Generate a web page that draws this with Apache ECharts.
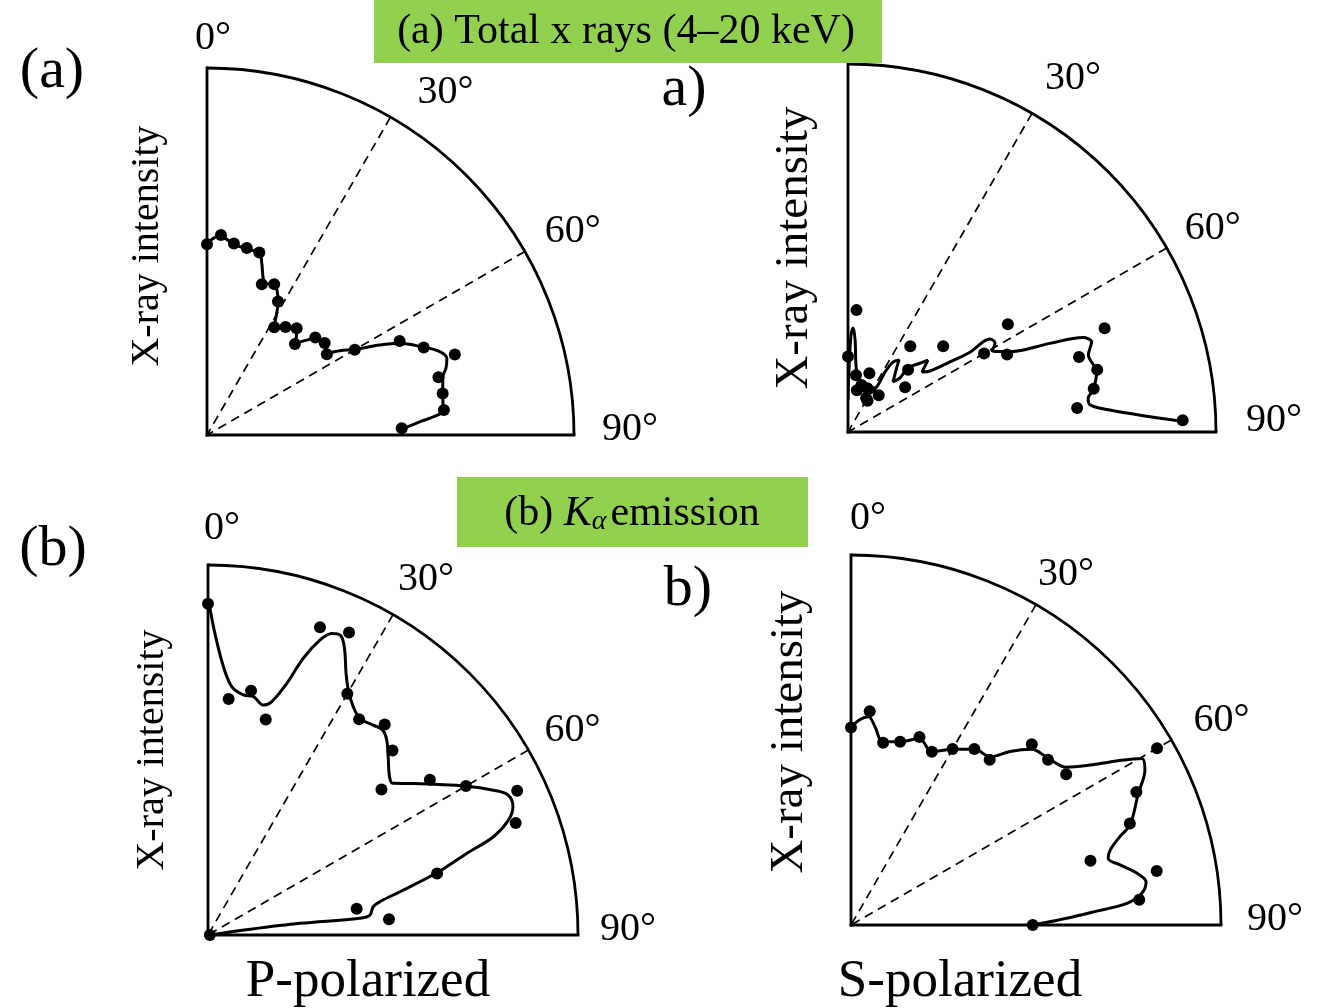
<!DOCTYPE html>
<html>
<head>
<meta charset="utf-8">
<script src="https://cdn.jsdelivr.net/npm/echarts@6/dist/echarts.min.js"></script>
<style>
html,body{margin:0;padding:0;background:#fff;}
#chart{width:1321px;height:1008px;}
</style>
</head>
<body>
<div id="chart"></div>
<script>
// ---- Data (angle in degrees from the surface normal, intensity normalised to the outer arc) ----
const angleTicks = [0, 30, 60, 90];
const frameRadius = [0, 1];

// (a) Total x rays, P-polarized
const pTotalAngles = [0,4,8,12,16,20,24,28,32,36,40,44,48,52,56,60,64,68,72,76,80,84,88];
const pTotalValues = [0.520,0.546,0.527,0.521,0.517,0.437,0.450,0.412,0.346,0.364,0.380,0.345,0.397,0.407,0.394,0.465,0.584,0.637,0.710,0.650,0.652,0.649,0.531];
const pTotalCurveAngles = [0,1.8,3.9,6.3,7.8,12.4,16.3,17.7,20.9,24.4,26.1,28.1,29.8,31.9,36.5,40.3,44.1,46.4,48.2,52.4,55.8,57.6,59.9,62.5,64.5,68.0,70.3,72.3,74.4,76.1,80.1,84.0,85.4,86.4,88.3];
const pTotalCurveValues = [0.520,0.536,0.544,0.533,0.525,0.518,0.516,0.491,0.443,0.449,0.435,0.412,0.382,0.346,0.362,0.378,0.348,0.375,0.395,0.406,0.399,0.429,0.466,0.531,0.580,0.638,0.674,0.686,0.676,0.662,0.652,0.647,0.619,0.582,0.531];

// (a) Total x rays, S-polarized
const sTotalAngles = [0,4,8,12,16,20,24,28,32,36,40,44,48,52,56,60,64,68,72,76,80,84,88];
const sTotalValues = [0.205,0.332,0.156,0.116,0.133,0.170,0.130,0.105,0.100,0.288,0.130,0.235,0.348,0.197,0.524,0.427,0.481,0.752,0.660,0.698,0.678,0.626,0.910];
const sTotalCurveAngles = [0,0.9,1.8,2.8,4.4,6.8,10.9,17.7,29.4,32.5,31.7,32.7,35.3,37.8,42.0,43.9,43.1,44.1,45.8,48.0,49.9,51.0,53.4,55.5,56.8,56.8,58.8,60.6,63.6,66.3,68.1,69.7,72.2,76.4,80.3,82.0,83.6,85.2,87.1,88.2];
const sTotalCurveValues = [0.087,0.168,0.264,0.283,0.251,0.183,0.144,0.125,0.122,0.152,0.192,0.226,0.240,0.213,0.183,0.204,0.231,0.250,0.265,0.292,0.270,0.259,0.278,0.336,0.396,0.461,0.467,0.449,0.491,0.599,0.688,0.706,0.686,0.695,0.676,0.659,0.662,0.714,0.822,0.911];

// (b) K-alpha emission, P-polarized
const pKaAngles = [0,5,10,15,20,25,30,35,40,45,50,55,60,65,70,75,80,85,90];
const pKaValues = [0.895,0.640,0.670,0.603,0.885,0.902,0.753,0.712,0.743,0.705,0.612,0.732,0.805,0.922,0.885,0.641,0.408,0.491,0.005];
const pKaCurveAngles = [0.2,1.3,3.3,5.5,8.4,10.8,13.5,15.3,17.4,19.0,20.8,22.3,23.8,25.3,27.8,29.8,32.5,35.1,38.2,40.4,42.5,45.3,48.9,50.6,53.6,60.1,63.1,65.0,67.2,69.1,71.0,72.5,74.8,77.3,79.0,80.3,83.0,83.7,82.8,82.3,90];
const pKaCurveValues = [0.895,0.816,0.726,0.674,0.656,0.656,0.639,0.654,0.713,0.791,0.853,0.881,0.886,0.862,0.800,0.763,0.731,0.715,0.722,0.728,0.715,0.685,0.651,0.646,0.690,0.807,0.865,0.895,0.894,0.869,0.816,0.733,0.641,0.532,0.474,0.453,0.441,0.413,0.251,0.115,0.004];

// (b) K-alpha emission, S-polarized
const sKaAngles = [0,5,10,15,20,25,30,35,40,45,50,55,60,65,70,75,80,85,90];
const sKaValues = [0.534,0.580,0.500,0.513,0.541,0.517,0.549,0.581,0.583,0.691,0.695,0.710,0.955,0.851,0.802,0.670,0.839,0.782,0.491];
const sKaCurveAngles = [0,2.5,4.8,6.9,9.8,15.0,20.1,25.0,30.1,35.2,39.6,42.5,45.8,49.8,53.8,56.2,58.3,60.2,62.2,65.4,70.2,71.8,73.9,75.5,77.4,79.7,81.7,83.8,85.5,86.9,88.2,90];
const sKaCurveValues = [0.534,0.556,0.565,0.540,0.503,0.513,0.537,0.517,0.549,0.581,0.590,0.636,0.681,0.698,0.722,0.777,0.844,0.906,0.898,0.854,0.802,0.765,0.729,0.718,0.745,0.785,0.806,0.790,0.748,0.656,0.583,0.491];

const panelText = {
  boxA: '(a) Total x rays (4\u201320 keV)',
  yTitle: 'X-ray intensity',
  pLabel: 'P-polarized',
  sLabel: 'S-polarized'
};

// ---- Chart ----
const SERIF = '"Liberation Serif", "Times New Roman", serif';
const chart = echarts.init(document.getElementById('chart'), null, {renderer: 'canvas'});

const polars = [
  {center: [207, 435], radius: 367},
  {center: [848, 432], radius: 368},
  {center: [208, 935], radius: 370},
  {center: [851, 925], radius: 370}
];

// per-panel label paddings [top, right, bottom, left] for 0/30/60/90 degree labels
const labelPads = [
  {l0: [0,0,10,12], l30: [0,0,5,27], l60: [0,0,0,20], l90: [0,0,12,28]},
  {l0: [0,0,17,28], l30: [0,0,15,13], l60: [0,0,0,18], l90: [0,0,24,30]},
  {l0: [0,0,17,28], l30: [0,0,15,5],  l60: [0,0,0,16], l90: [0,0,12,22]},
  {l0: [0,0,17,34], l30: [0,0,10,2],  l60: [0,0,0,22], l90: [0,0,12,26]}
];

function richFor(i) {
  const r = {};
  Object.keys(labelPads[i]).forEach(k => {
    r[k] = {fontFamily: SERIF, fontSize: 40, color: '#000', padding: labelPads[i][k]};
  });
  return r;
}

const angleAxes = polars.map((p, i) => ({
  polarIndex: i,
  type: 'value',
  min: angleTicks[0], max: angleTicks[angleTicks.length - 1], interval: 30,
  startAngle: 90, endAngle: 0, clockwise: true,
  axisLine: {show: true, lineStyle: {color: '#000', width: 2.8}},
  axisTick: {show: false},
  splitLine: {show: true, lineStyle: {color: '#000', width: 1.7, type: [9, 6]}},
  axisLabel: {
    show: true, margin: 0,
    formatter: v => '{l' + v + '|' + v + '\u00b0}',
    rich: richFor(i),
    color: '#000', fontFamily: SERIF, fontSize: 40
  }
}));

const radiusAxes = polars.map((p, i) => ({
  polarIndex: i,
  type: 'value', min: frameRadius[0], max: frameRadius[1],
  axisLine: {show: false},
  axisTick: {show: false},
  axisLabel: {show: false},
  splitLine: {show: false}
}));

function zip(r, a) { return r.map((v, k) => [v, a[k]]); }

const sets = [
  [pTotalValues, pTotalAngles, pTotalCurveValues, pTotalCurveAngles],
  [sTotalValues, sTotalAngles, sTotalCurveValues, sTotalCurveAngles],
  [pKaValues, pKaAngles, pKaCurveValues, pKaCurveAngles],
  [sKaValues, sKaAngles, sKaCurveValues, sKaCurveAngles]
];

// frame edges (0 deg and 90 deg radii), drawn through the polar coordinate system
const frameAngles = [angleTicks[0], angleTicks[angleTicks.length - 1]];

const series = [];
sets.forEach((s, i) => {
  series.push({
    type: 'custom', coordinateSystem: 'polar', polarIndex: i,
    data: frameAngles.map(a => [frameRadius[1], a]),
    clip: false, silent: true, z: 3,
    renderItem: function (params, api) {
      const a = api.value(1);
      const p0 = api.coord([frameRadius[0], a]);
      const p1 = api.coord([frameRadius[1], a]);
      return {
        type: 'line',
        shape: {x1: p0[0], y1: p0[1], x2: p1[0], y2: p1[1]},
        style: {stroke: '#000', lineWidth: 2.8, lineCap: 'square'}
      };
    }
  });
  series.push({
    type: 'line', coordinateSystem: 'polar', polarIndex: i,
    data: zip(s[2], s[3]), smooth: 0.35, symbol: 'none', clip: false,
    lineStyle: {color: '#000', width: 3}, z: 4
  });
  series.push({
    type: 'scatter', coordinateSystem: 'polar', polarIndex: i,
    data: zip(s[0], s[1]), symbol: 'circle', symbolSize: 12, clip: false,
    itemStyle: {color: '#000', opacity: 1}, z: 5
  });
});

function txt(x, y, text, size, opts) {
  return Object.assign({
    type: 'text', x: x, y: y, z: 100,
    style: Object.assign({text: text, fill: '#000', font: size + 'px ' + SERIF, align: 'center', verticalAlign: 'middle'}, (opts && opts.style) || {})
  }, opts && opts.el || {});
}

const graphics = [
  {type: 'rect', z: 99, shape: {x: 374, y: 0, width: 508, height: 63}, style: {fill: '#92d050'}},
  txt(626, 32, panelText.boxA, 42),
  {type: 'rect', z: 99, shape: {x: 457, y: 477, width: 351, height: 70}, style: {fill: '#92d050'}},
  {
    type: 'text', x: 632, y: 514, z: 100,
    style: {
      text: '(b) {k|K}{a|\u03b1}{t|emission}',
      rich: {
        k: {fontFamily: SERIF, fontSize: 42, fontStyle: 'italic', fill: '#000'},
        a: {fontFamily: SERIF, fontSize: 28, fontStyle: 'italic', fill: '#000', verticalAlign: 'bottom', padding: [16, 4, 0, 0]},
        t: {fontFamily: SERIF, fontSize: 42, fill: '#000'}
      },
      font: '42px ' + SERIF, fill: '#000', align: 'center', verticalAlign: 'middle'
    }
  },
  txt(52, 72, '(a)', 58),
  txt(684, 90, 'a)', 58),
  txt(53, 550, '(b)', 58),
  txt(688, 590, 'b)', 58),
  txt(147, 246, panelText.yTitle, 40, {el: {rotation: Math.PI / 2}}),
  txt(795, 248, panelText.yTitle, 47, {el: {rotation: Math.PI / 2}}),
  txt(152, 750, panelText.yTitle, 40, {el: {rotation: Math.PI / 2}}),
  txt(790, 732, panelText.yTitle, 47, {el: {rotation: Math.PI / 2}}),
  txt(368, 982, panelText.pLabel, 53),
  txt(960, 982, panelText.sLabel, 53)
];

chart.setOption({
  backgroundColor: '#fff',
  animation: false,
  polar: polars,
  angleAxis: angleAxes,
  radiusAxis: radiusAxes,
  series: series,
  graphic: graphics
});
</script>
</body>
</html>
